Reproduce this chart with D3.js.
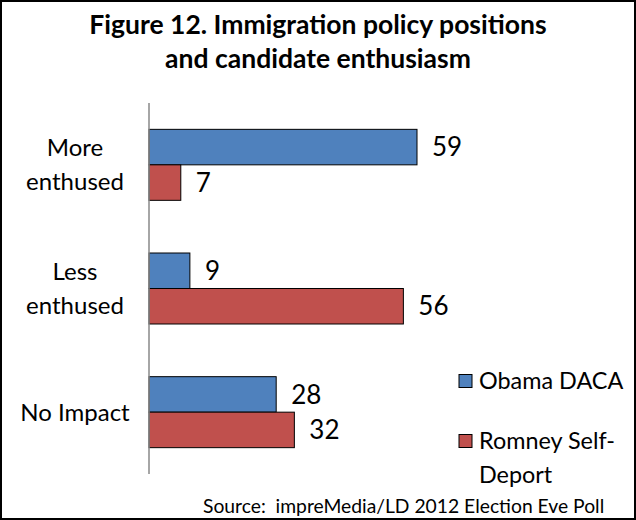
<!DOCTYPE html>
<html>
<head>
<meta charset="utf-8">
<script src="https://cdn.jsdelivr.net/npm/d3@7"></script>
<style>
  html, body { margin: 0; padding: 0; background: #fff; }
  svg { display: block; font-family: Lato, "Open Sans", sans-serif; }
</style>
</head>
<body>
<svg id="chart" width="636" height="520"></svg>
<script>
// Survey responses by category
const categories = [["More", "enthused"], ["Less", "enthused"], ["No Impact"]];
const seriesNames = ["Obama DACA", "Romney Self-Deport"];
const obamaDaca = [59, 9, 28];
const romneySelfDeport = [7, 56, 32];
const titleLines = ["Figure 12. Immigration policy positions", "and candidate enthusiasm"];
const sourceText = "Source:  impreMedia/LD 2012 Election Eve Poll";

const colors = ["#4F81BD", "#C0504D"];
const series = [obamaDaca, romneySelfDeport];

const svg = d3.select("#chart");
const W = 636, H = 520;

// outer frame
svg.append("rect")
  .attr("x", 1).attr("y", 1).attr("width", W - 2).attr("height", H - 2)
  .attr("fill", "#fff").attr("stroke", "#000").attr("stroke-width", 2);

// title
svg.append("g").selectAll("text").data(titleLines).join("text")
  .attr("x", 318).attr("y", (d, i) => 34 + i * 34)
  .attr("text-anchor", "middle")
  .attr("font-weight", "bold").attr("font-size", 26.5)
  .text(d => d);

const plot = { left: 149, top: 103, bottom: 474 };

const x = d3.scaleLinear().domain([0, 59]).range([plot.left, 417]);
const y = d3.scaleBand()
  .domain(d3.range(categories.length))
  .range([plot.top, plot.bottom])
  .paddingInner(0.426).paddingOuter(0.213);
const ySub = d3.scaleBand().domain(d3.range(series.length)).range([0, y.bandwidth()]);

const groups = svg.append("g").selectAll("g").data(categories).join("g")
  .attr("transform", (d, i) => `translate(0,${y(i)})`);

groups.each(function (cat, ci) {
  const g = d3.select(this);
  series.forEach((vals, si) => {
    const v = vals[ci];
    g.append("rect")
      .attr("x", x(0)).attr("y", ySub(si))
      .attr("width", x(v) - x(0)).attr("height", ySub.bandwidth())
      .attr("fill", colors[si]).attr("stroke", "#000").attr("stroke-width", 1);
    g.append("text")
      .attr("x", x(v) + 15).attr("y", ySub(si) + ySub.bandwidth() / 2)
      .attr("dy", "0.35em").attr("font-size", 26)
      .text(v);
  });
  // category label
  const lineH = 34;
  const cy = y.bandwidth() / 2;
  g.append("g").selectAll("text").data(cat).join("text")
    .attr("x", 75)
    .attr("y", (d, i) => cy + (i - (cat.length - 1) / 2) * lineH)
    .attr("dy", "0.35em").attr("text-anchor", "middle").attr("font-size", 24)
    .text(d => d);
});

// category axis line
svg.append("line")
  .attr("x1", plot.left).attr("x2", plot.left)
  .attr("y1", plot.top).attr("y2", plot.bottom)
  .attr("stroke", "#888").attr("stroke-width", 1.5);

// legend
const legend = svg.append("g");
const legendLines = [["Obama DACA"], ["Romney Self-", "Deport"]];
legendLines.forEach((lines, i) => {
  const ly = 381 + i * 60;
  legend.append("rect")
    .attr("x", 459).attr("y", ly - 6.5).attr("width", 13).attr("height", 13)
    .attr("fill", colors[i]).attr("stroke", "#000").attr("stroke-width", 1);
  lines.forEach((t, j) => {
    legend.append("text")
      .attr("x", 479).attr("y", ly + j * 34)
      .attr("dy", "0.35em").attr("font-size", 23.4)
      .text(t);
  });
});

// source note
svg.append("text")
  .attr("x", 203).attr("y", 513).attr("font-size", 19.3)
  .attr("xml:space", "preserve")
  .style("white-space", "pre")
  .text(sourceText);
</script>
</body>
</html>
